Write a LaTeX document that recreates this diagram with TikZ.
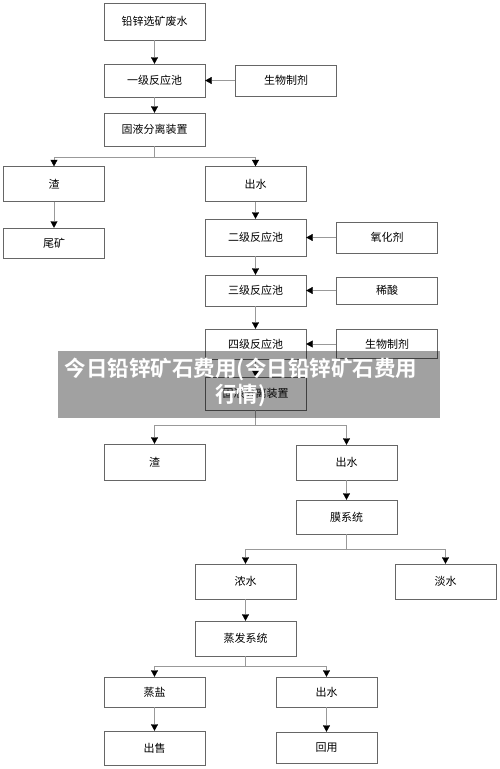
\documentclass[tikz,border=0pt]{standalone}
\usepackage{fontspec}
\newfontfamily\cjk{Noto Sans CJK SC}
\newfontfamily\cjkbold{Noto Sans CJK SC Bold}
\usepackage{tikz}
\usetikzlibrary{arrows.meta}
\usetikzlibrary{positioning}
\tikzset{
    stage/.style = {draw=black!60,minimum width=101pt,minimum height=33pt,inner sep=0,font=\cjk\fontsize{11}{13}\selectfont},
    flow/.style = {draw=black!40,-{Triangle[length=6.5pt,width=7pt,color=black]}},
    branch/.style = {draw=black!40}
}
\tikzset{
    banner/.style = {fill=black,fill opacity=0.37,minimum width=382pt,minimum height=67pt,inner sep=0},
    bannertext/.style = {text=white,align=center,inner sep=0,font=\cjkbold\fontsize{21.5}{26.5}\selectfont}
}

\begin{document}
\begin{tikzpicture}[x=1pt,y=-1pt]
        \useasboundingbox (0,0) rectangle (500,769);
        % Main line
        \node[stage,minimum height=37pt] (feed) at (154.5,21.5) {铅锌选矿废水};
        \node[stage] (r1) at (154.5,80.5) {一级反应池};
        \node[stage] (sep1) at (154.5,129.5) {固液分离装置};
        \node[stage,minimum height=35pt] (slag1) at (54,184) {渣};
        \node[stage,minimum height=35pt] (out1) at (255.5,184) {出水};
        \node[stage,minimum height=30pt] (tail) at (54,243) {尾矿};
        \node[stage,minimum height=37pt] (r2) at (255.5,237.5) {二级反应池};
        \node[stage,minimum height=31pt] (r3) at (255.5,290.5) {三级反应池};
        \node[stage,minimum height=30pt] (r4) at (255.5,344) {四级反应池};
        \node[stage] (sep2) at (255.5,393.5) {固液分离装置};
        \node[stage,minimum height=36pt] (slag2) at (154.5,462) {渣};
        \node[stage,minimum height=35pt] (out2) at (346.5,462.5) {出水};
        \node[stage,minimum height=34pt] (mem) at (346.5,517) {膜系统};
        \node[stage,minimum height=35pt] (conc) at (245.5,581.5) {浓水};
        \node[stage,minimum height=35pt] (fresh) at (445.5,581.5) {淡水};
        \node[stage,minimum height=35pt] (evap) at (245.5,638.5) {蒸发系统};
        \node[stage,minimum height=30pt] (salt) at (154.5,692) {蒸盐};
        \node[stage,minimum height=30pt] (out3) at (326.5,692) {出水};
        \node[stage,minimum height=34pt] (sell) at (154.5,748) {出售};
        \node[stage,minimum height=31pt] (reuse) at (326.5,747.5) {回用};
        % Dosing
        \node[stage,minimum height=31pt] (bio1) at (286,80.5) {生物制剂};
        \node[stage,minimum height=31pt] (ox) at (387,237.5) {氧化剂};
        \node[stage,minimum height=27pt] (acid) at (387,290.5) {稀酸};
        \node[stage,minimum height=29pt] (bio2) at (387,344) {生物制剂};
        % Split points
        \path (sep1.south) to +(0,10.5) coordinate (s1);
        \path (sep2.south) to +(0,15) coordinate (s2);
        \path (mem.south) to +(0,15) coordinate (s3);
        \path (evap.south) to +(0,10) coordinate (s4);
        % Flows
        \foreach \src/\dest in {feed/r1,r1/sep1,slag1/tail,out1/r2,r2/r3,r3/r4,r4/sep2,out2/mem,conc/evap,salt/sell,out3/reuse,bio1/r1,ox/r2,acid/r3,bio2/r4}
            \draw[flow] (\src) to (\dest);
        \foreach \src/\dest in {sep1/s1,sep2/s2,mem/s3,evap/s4}
            \draw[branch] (\src) to (\dest);
        \foreach \src/\dest in {s1/slag1,s1/out1,s2/slag2,s2/out2,s3/conc,s3/fresh,s4/salt,s4/out3}
            \draw[flow] (\src) -| (\dest);
        % Watermark
        \node[banner] (mark) at (249,384.5) {};
        \node[bannertext] (marktext) at (241,382.5) {今日铅锌矿石费用(今日铅锌矿石费用\\行情)};
    \end{tikzpicture}
\end{document}
